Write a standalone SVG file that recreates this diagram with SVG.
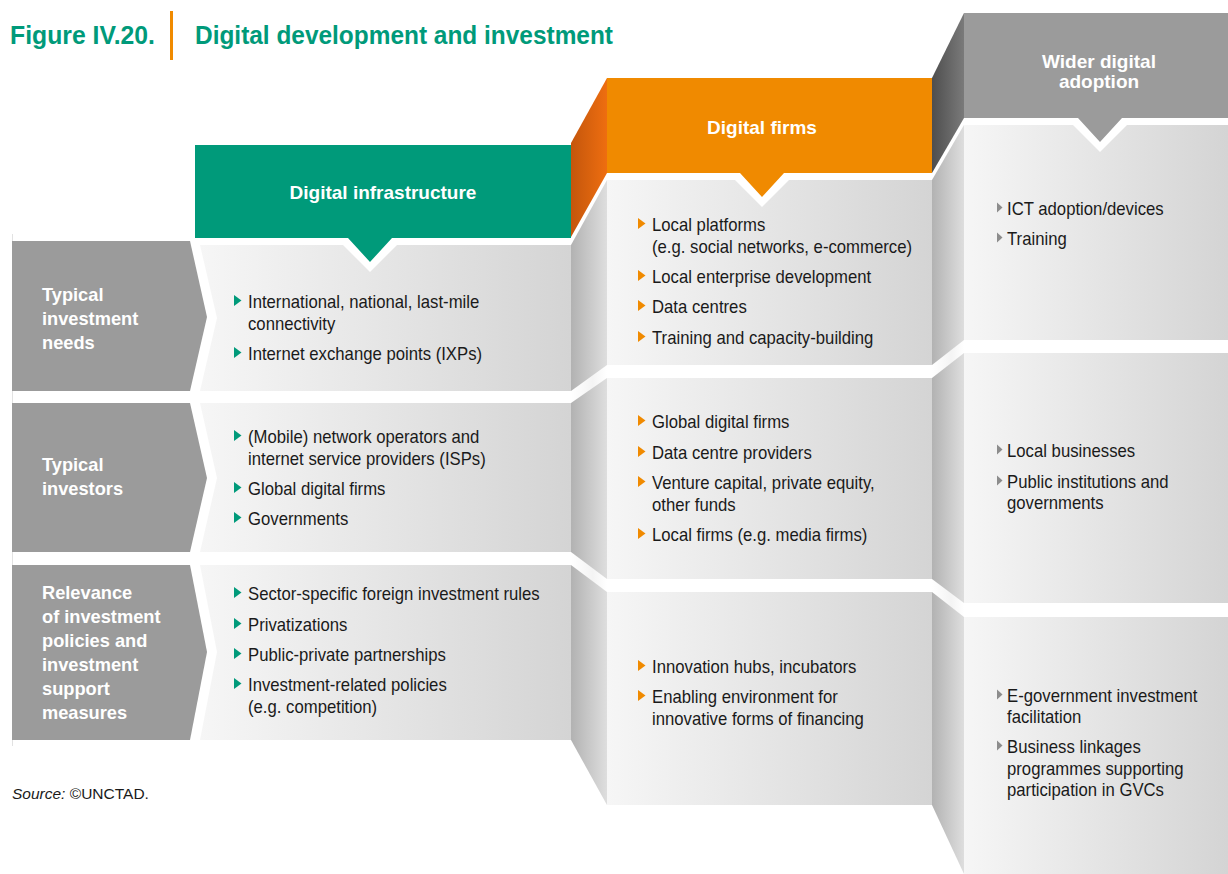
<svg xmlns="http://www.w3.org/2000/svg" width="1228" height="874" viewBox="0 0 1228 874">
<defs>
<linearGradient id="panel" x1="0" y1="0" x2="1" y2="0">
<stop offset="0" stop-color="#f6f6f6"/><stop offset="1" stop-color="#d4d4d4"/>
</linearGradient>
<linearGradient id="side" x1="0" y1="0" x2="1" y2="0">
<stop offset="0" stop-color="#b2b2b2"/><stop offset="1" stop-color="#dedede"/>
</linearGradient>
<linearGradient id="orangeSide" x1="0" y1="0" x2="1" y2="0">
<stop offset="0" stop-color="#c4560c"/><stop offset="1" stop-color="#ee6e10"/>
</linearGradient>
<linearGradient id="greySide" x1="0" y1="0" x2="1" y2="0">
<stop offset="0" stop-color="#4e4e4e"/><stop offset="1" stop-color="#7a7a7a"/>
</linearGradient>
<linearGradient id="band" x1="0" y1="0" x2="1" y2="0">
<stop offset="0" stop-color="#ffffff"/><stop offset="0.6" stop-color="#f4f4f4"/><stop offset="1" stop-color="#ffffff"/>
</linearGradient>
</defs>
<style>
.t{font-family:"Liberation Sans",Arial,sans-serif;font-size:17.5px;fill:#1a1a1a}
.h{font-family:"Liberation Sans",Arial,sans-serif;font-size:19px;font-weight:bold;fill:#ffffff}
.r{font-family:"Liberation Sans",Arial,sans-serif;font-size:19px;font-weight:bold;fill:#ffffff}
.title{font-family:"Liberation Sans",Arial,sans-serif;font-size:26px;font-weight:bold;fill:#009a7a}
.src{font-family:"Liberation Sans",Arial,sans-serif;font-size:15.5px;fill:#1a1a1a}
.chev{fill:#9b9b9b}
.pan{fill:url(#panel)}
.side{fill:url(#side)}
.gb{fill:#009a7a}
.ob{fill:#f08a00}
.yb{fill:#8c8c8c}
</style>

<g id="title">
<text class="title" x="10" y="44" textLength="145" lengthAdjust="spacingAndGlyphs">Figure IV.20.</text>
<rect x="170" y="11" width="3" height="49" fill="#f08a00"/>
<text class="title" x="195" y="44" textLength="418" lengthAdjust="spacingAndGlyphs">Digital development and investment</text>
</g>

<line x1="12.5" y1="234" x2="12.5" y2="746" stroke="#e2e2e2" stroke-width="1"/>

<g id="row-labels">
<g id="row1-label">
<polygon class="chev" points="12,241 190,241 207,317 190,391 12,391"/>
<g transform="translate(42 0) scale(0.96 1)">
<text class="r" x="0" y="301">Typical</text>
<text class="r" x="0" y="325">investment</text>
<text class="r" x="0" y="349">needs</text>
</g>
</g>
<g id="row2-label">
<polygon class="chev" points="12,403 190,403 207,478 190,552 12,552"/>
<g transform="translate(42 0) scale(0.96 1)">
<text class="r" x="0" y="471">Typical</text>
<text class="r" x="0" y="495">investors</text>
</g>
</g>
<g id="row3-label">
<polygon class="chev" points="12,565 190,565 207,652 190,740 12,740"/>
<g transform="translate(42 0) scale(0.96 1)">
<text class="r" x="0" y="599">Relevance</text>
<text class="r" x="0" y="623">of investment</text>
<text class="r" x="0" y="647">policies and</text>
<text class="r" x="0" y="671">investment</text>
<text class="r" x="0" y="695">support</text>
<text class="r" x="0" y="719">measures</text>
</g>
</g>
</g>

<g id="connectors">
<polygon class="side" points="571,245 607,180 607,805 571,740"/>
<polygon fill="url(#band)" points="571,391 607,365 607,378 571,403"/>
<polygon fill="url(#band)" points="571,552 607,579 607,592 571,565"/>
<polygon class="side" points="932,180 964,125 964,874 932,805"/>
<polygon fill="url(#band)" points="932,365 964,340 964,353 932,378"/>
<polygon fill="url(#band)" points="932,579 964,603 964,617 932,592"/>
<polygon fill="url(#orangeSide)" points="571,143 607,78 607,173 571,237"/>
<polygon fill="url(#greySide)" points="932,78 964,13 964,118 932,173"/>
</g>

<g id="col1">
<g id="col1-row1">
<polygon class="pan" points="200,245 571,245 571,391 200,391 217,318"/>
<polygon class="gb" points="234,295 241.5,300.5 234,306"/>
<polygon class="gb" points="234,347 241.5,352.5 234,358"/>
<g transform="translate(248 0) scale(0.955 1)">
<text class="t" x="0" y="308">International, national, last-mile</text>
<text class="t" x="0" y="330">connectivity</text>
<text class="t" x="0" y="360">Internet exchange points (IXPs)</text>
</g>
</g>
<g id="col1-row2">
<polygon class="pan" points="200,403 571,403 571,552 200,552 217,478"/>
<polygon class="gb" points="234,430 241.5,435.5 234,441"/>
<polygon class="gb" points="234,482 241.5,487.5 234,493"/>
<polygon class="gb" points="234,512 241.5,517.5 234,523"/>
<g transform="translate(248 0) scale(0.955 1)">
<text class="t" x="0" y="443">(Mobile) network operators and</text>
<text class="t" x="0" y="465">internet service providers (ISPs)</text>
<text class="t" x="0" y="495">Global digital firms</text>
<text class="t" x="0" y="525">Governments</text>
</g>
</g>
<g id="col1-row3">
<polygon class="pan" points="200,565 571,565 571,740 200,740 217,652"/>
<polygon class="gb" points="234,587 241.5,592.5 234,598"/>
<polygon class="gb" points="234,618 241.5,623.5 234,629"/>
<polygon class="gb" points="234,648 241.5,653.5 234,659"/>
<polygon class="gb" points="234,678 241.5,683.5 234,689"/>
<g transform="translate(248 0) scale(0.955 1)">
<text class="t" x="0" y="600">Sector-specific foreign investment rules</text>
<text class="t" x="0" y="631">Privatizations</text>
<text class="t" x="0" y="661">Public-private partnerships</text>
<text class="t" x="0" y="691">Investment-related policies</text>
<text class="t" x="0" y="713">(e.g. competition)</text>
</g>
</g>
<g id="col1-header">
<polygon fill="#ffffff" points="336,238 404,238 370,272"/>
<path fill="#009a7a" d="M195,145 H571 V238 H392 L370,262 L348,238 H195 Z"/>
<text class="h" x="383" y="199" text-anchor="middle">Digital infrastructure</text>
</g>
</g>

<g id="col2">
<g id="col2-row1">
<rect class="pan" x="607" y="180" width="325" height="185"/>
<polygon class="ob" points="638,218 645.5,223.5 638,229"/>
<polygon class="ob" points="638,270 645.5,275.5 638,281"/>
<polygon class="ob" points="638,300 645.5,305.5 638,311"/>
<polygon class="ob" points="638,331 645.5,336.5 638,342"/>
<g transform="translate(652 0) scale(0.955 1)">
<text class="t" x="0" y="231">Local platforms</text>
<text class="t" x="0" y="253">(e.g. social networks, e-commerce)</text>
<text class="t" x="0" y="283">Local enterprise development</text>
<text class="t" x="0" y="313">Data centres</text>
<text class="t" x="0" y="344">Training and capacity-building</text>
</g>
</g>
<g id="col2-row2">
<rect class="pan" x="607" y="378" width="325" height="201"/>
<polygon class="ob" points="638,415 645.5,420.5 638,426"/>
<polygon class="ob" points="638,446 645.5,451.5 638,457"/>
<polygon class="ob" points="638,476 645.5,481.5 638,487"/>
<polygon class="ob" points="638,528 645.5,533.5 638,539"/>
<g transform="translate(652 0) scale(0.955 1)">
<text class="t" x="0" y="428">Global digital firms</text>
<text class="t" x="0" y="459">Data centre providers</text>
<text class="t" x="0" y="489">Venture capital, private equity,</text>
<text class="t" x="0" y="511">other funds</text>
<text class="t" x="0" y="541">Local firms (e.g. media firms)</text>
</g>
</g>
<g id="col2-row3">
<rect class="pan" x="607" y="592" width="325" height="213"/>
<polygon class="ob" points="638,660 645.5,665.5 638,671"/>
<polygon class="ob" points="638,690 645.5,695.5 638,701"/>
<g transform="translate(652 0) scale(0.955 1)">
<text class="t" x="0" y="673">Innovation hubs, incubators</text>
<text class="t" x="0" y="703">Enabling environment for</text>
<text class="t" x="0" y="725">innovative forms of financing</text>
</g>
</g>
<g id="col2-header">
<polygon fill="#ffffff" points="728,173 796,173 762,207"/>
<path fill="#f08a00" d="M607,78 H932 V173 H784 L762,197 L740,173 H607 Z"/>
<text class="h" x="762" y="134" text-anchor="middle">Digital firms</text>
</g>
</g>

<g id="col3">
<g id="col3-row1">
<rect class="pan" x="964" y="125" width="264" height="215"/>
<polygon class="yb" points="997,202.5 1002.5,207.5 997,212.5"/>
<polygon class="yb" points="997,232.5 1002.5,237.5 997,242.5"/>
<g transform="translate(1007 0) scale(0.955 1)">
<text class="t" x="0" y="215">ICT adoption/devices</text>
<text class="t" x="0" y="245">Training</text>
</g>
</g>
<g id="col3-row2">
<rect class="pan" x="964" y="353" width="264" height="250"/>
<polygon class="yb" points="997,444.5 1002.5,449.5 997,454.5"/>
<polygon class="yb" points="997,475.5 1002.5,480.5 997,485.5"/>
<g transform="translate(1007 0) scale(0.955 1)">
<text class="t" x="0" y="457">Local businesses</text>
<text class="t" x="0" y="488">Public institutions and</text>
<text class="t" x="0" y="509">governments</text>
</g>
</g>
<g id="col3-row3">
<rect class="pan" x="964" y="617" width="264" height="257"/>
<polygon class="yb" points="997,689.5 1002.5,694.5 997,699.5"/>
<polygon class="yb" points="997,740.5 1002.5,745.5 997,750.5"/>
<g transform="translate(1007 0) scale(0.955 1)">
<text class="t" x="0" y="702">E-government investment</text>
<text class="t" x="0" y="723">facilitation</text>
<text class="t" x="0" y="753">Business linkages</text>
<text class="t" x="0" y="775">programmes supporting</text>
<text class="t" x="0" y="796">participation in GVCs</text>
</g>
</g>
<g id="col3-header">
<polygon fill="#ffffff" points="1066,118 1134,118 1100,152"/>
<path fill="#9b9b9b" d="M964,13 H1228 V118 H1122 L1100,142 L1078,118 H964 Z"/>
<text class="h" x="1099" y="68" text-anchor="middle">Wider digital</text>
<text class="h" x="1099" y="88" text-anchor="middle">adoption</text>
</g>
</g>

<g id="source">
<text class="src" x="12" y="799"><tspan font-style="italic">Source:</tspan> ©UNCTAD.</text>
</g>
</svg>
